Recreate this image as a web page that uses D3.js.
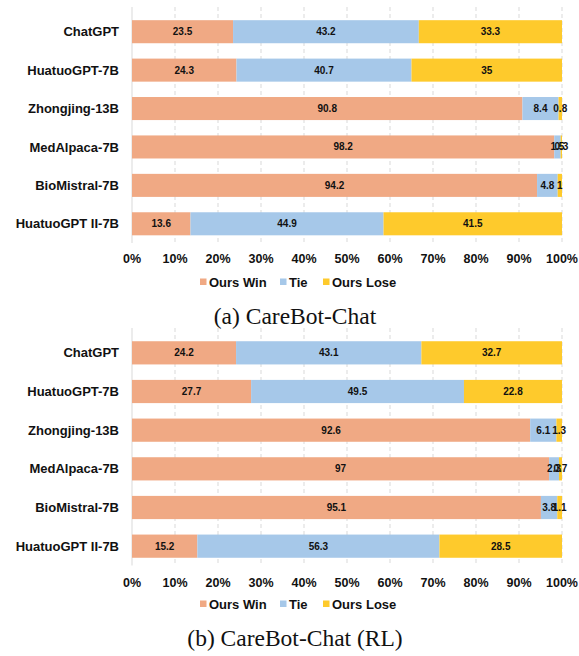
<!DOCTYPE html>
<html><head><meta charset="utf-8">
<script src="https://cdn.jsdelivr.net/npm/d3@7"></script>
<style>body{margin:0;background:#fff}svg{display:block}</style>
</head><body><svg id="c" width="579" height="656"></svg>
<script>
const categories = ["ChatGPT","HuatuoGPT-7B","Zhongjing-13B","MedAlpaca-7B","BioMistral-7B","HuatuoGPT II-7B"];
const seriesNames = ["Ours Win","Tie","Ours Lose"];
const colors = ["#F0A984","#A6C8E9","#FECA2C"];
const winA  = [23.5, 24.3, 90.8, 98.2, 94.2, 13.6];
const tieA  = [43.2, 40.7, 8.4, 1.5, 4.8, 44.9];
const loseA = [33.3, 35, 0.8, 0.3, 1, 41.5];
const winB  = [24.2, 27.7, 92.6, 97, 95.1, 15.2];
const tieB  = [43.1, 49.5, 6.1, 2.3, 3.8, 56.3];
const loseB = [32.7, 22.8, 1.3, 0.7, 1.1, 28.5];
const xTicks = [0,10,20,30,40,50,60,70,80,90,100];
const captions = ["(a) CareBot-Chat","(b) CareBot-Chat (RL)"];

const svg = d3.select("#c");
const sans = "'Liberation Sans', Arial, sans-serif";
const x = d3.scaleLinear().domain([0,100]).range([132,562]);

function panel(win, tie, lose, cfg, caption){
  const g = svg.append("g");
  const y = d3.scaleBand().domain(categories).range([cfg.top, cfg.bottom]).paddingInner(0.4).paddingOuter(0.2);
  g.selectAll("line.grid").data(xTicks).enter().append("line")
    .attr("x1", d=>x(d)).attr("x2", d=>x(d))
    .attr("y1", cfg.gridTop).attr("y2", cfg.bottom)
    .attr("stroke", "#d9d9d9").attr("stroke-width", 1)
    .attr("stroke-dasharray", d=> d===0 ? null : "4,3");
  const rows = categories.map((c,i)=>({cat:c, vals:[win[i],tie[i],lose[i]]}));
  rows.forEach(r=>{
    let acc = 0;
    r.vals.forEach((v,j)=>{
      const x0 = acc; acc += v;
      g.append("rect").attr("x", x(x0)).attr("y", y(r.cat))
        .attr("width", x(acc)-x(x0)).attr("height", y.bandwidth())
        .attr("fill", colors[j]);
    });
  });
  rows.forEach(r=>{
    let acc = 0;
    r.vals.forEach((v,j)=>{
      const mid = acc + v/2; acc += v;
      g.append("text").attr("x", x(mid)).attr("y", y(r.cat)+y.bandwidth()/2)
        .attr("dy","0.35em").attr("text-anchor","middle")
        .attr("font-family", sans).attr("font-weight","bold").attr("font-size","10px")
        .attr("fill","#111").text(v);
    });
  });
  g.selectAll("text.cat").data(categories).enter().append("text")
    .attr("x", 119).attr("y", d=>y(d)+y.bandwidth()/2).attr("dy","0.35em")
    .attr("text-anchor","end").attr("font-family", sans).attr("font-weight","bold")
    .attr("font-size","13px").attr("fill","#111").text(d=>d);
  g.selectAll("text.tick").data(xTicks).enter().append("text")
    .attr("x", d=>x(d)).attr("y", cfg.tickY).attr("text-anchor","middle")
    .attr("font-family", sans).attr("font-weight","bold").attr("font-size","12.5px")
    .attr("fill","#111").text(d=>d+"%");
  const lx = [200, 280, 323];
  seriesNames.forEach((s,j)=>{
    g.append("rect").attr("x", lx[j]).attr("y", cfg.legendY-3.5).attr("width",6.5).attr("height",6.5).attr("fill",colors[j]);
    g.append("text").attr("x", lx[j]+9).attr("y", cfg.legendY).attr("dy","0.35em")
      .attr("font-family", sans).attr("font-weight","bold").attr("font-size","13px")
      .attr("fill","#111").text(s);
  });
  g.append("text").attr("x", 295).attr("y", cfg.captionY).attr("text-anchor","middle")
    .attr("font-family","'Liberation Serif','Times New Roman',serif").attr("font-size","23.5px")
    .attr("fill","#111").text(caption);
}

panel(winA, tieA, loseA, {top:12.5, bottom:243, gridTop:7, tickY:263, legendY:282, captionY:324}, captions[0]);
panel(winB, tieB, loseB, {top:333.5, bottom:565.5, gridTop:328, tickY:587, legendY:604, captionY:646}, captions[1]);
</script>
</body></html>
